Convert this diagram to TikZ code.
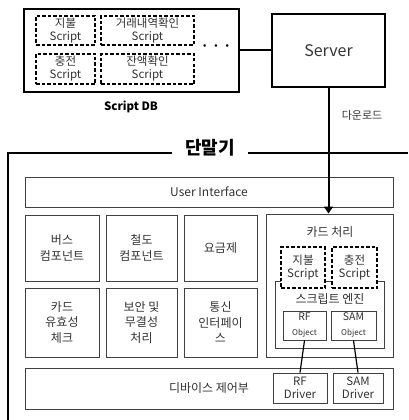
\documentclass[tikz,border=0pt]{standalone}
\usepackage{fontspec}
\setmainfont{Noto Sans CJK KR}
\usetikzlibrary{arrows.meta}
\begin{document}
\begin{tikzpicture}[x=1pt,y=-1pt,
  every node/.style={text=black!80, inner sep=0pt, align=center, font=\fontsize{11.5}{13}\selectfont},
  thickbox/.style={draw=black, line width=2pt, fill=white},
  scriptbox/.style={draw=black, line width=1.5pt, dash pattern=on 3.5pt off 2pt, fill=white, font=\fontsize{11.5}{13}\selectfont},
  modbox/.style={draw=black!75, line width=0.9pt, fill=white, font=\fontsize{12}{15.5}\selectfont},
  link/.style={line width=2pt, black},
  thinlink/.style={line width=1.2pt, black}]
\useasboundingbox (0,0) rectangle (408,420);

% Script DB with its scripts
\node[thickbox, minimum width=215pt, minimum height=83pt] (db) at (131.5,50.5) {};
\node[scriptbox, minimum width=59pt, minimum height=29pt] (s1) at (65.5,30.5) {지불\\Script};
\node[scriptbox, minimum width=93pt, minimum height=29pt] (s2) at (147.5,30.5) {거래내역확인\\Script};
\node[scriptbox, minimum width=59pt, minimum height=30pt] (s3) at (65.5,69) {충전\\Script};
\node[scriptbox, minimum width=93pt, minimum height=30pt] (s4) at (147.5,69) {잔액확인\\Script};
\node[font=\fontsize{12}{12}\selectfont\bfseries, text=black] (dots) at (216,48) {·\,\,·\,\,·};
\node[font=\fontsize{11.5}{12}\selectfont\bfseries, text=black] (dblabel) at (131,107) {Script DB};

% Server
\node[thickbox, minimum width=113pt, minimum height=73pt, font=\fontsize{16}{18}\selectfont] (server) at (328.5,50.5) {Server};
\draw[link] (db.east) -- (server.west);

% Terminal frame, open on the right
\node[font=\fontsize{18}{20}\selectfont\bfseries, text=black] (term) at (210,148) {단말기};
\coordinate (fl) at (8,153);
\draw[link] (8,420) -- (fl) -- (172,153);
\draw[link] (248,153) -- (408,153);

% Terminal modules
\node[modbox, minimum width=368pt, minimum height=30pt] (ui) at (209,192) {User Interface};
\node[modbox, minimum width=74pt, minimum height=66pt] (bus) at (62,248) {버스\\컴포넌트};
\node[modbox, minimum width=71pt, minimum height=66pt] (rail) at (141.5,248) {철도\\컴포넌트};
\node[modbox, minimum width=73pt, minimum height=66pt] (fare) at (220.5,248) {요금제};
\node[modbox, minimum width=74pt, minimum height=69pt] (valid) at (62,322.5) {카드\\유효성\\체크};
\node[modbox, minimum width=71pt, minimum height=69pt] (sec) at (141.5,322.5) {보안 및\\무결성\\처리};
\node[modbox, minimum width=73pt, minimum height=69pt] (comm) at (220.5,322.5) {통신\\인터페이\\스};

% Card processing
\node[modbox, minimum width=127pt, minimum height=143pt] (card) at (329.5,285.5) {};
\node[font=\fontsize{12}{14}\selectfont] (cardlabel) at (330,232) {카드 처리};
\node[modbox, minimum width=109pt, minimum height=67pt] (engine) at (329.5,314.5) {};
\node[font=\fontsize{12}{14}\selectfont] (enginelabel) at (330,299) {스크립트 엔진};
\node[scriptbox, minimum width=44pt, minimum height=41pt] (cs1) at (303,267.5) {지불\\Script};
\node[scriptbox, minimum width=45pt, minimum height=41pt] (cs2) at (354.5,267.5) {충전\\Script};
\node[modbox, minimum width=43pt, minimum height=29pt, font=\fontsize{10.5}{15}\selectfont] (rfo) at (304.5,325.5) {RF\\{\fontsize{8}{8}\selectfont Object}};
\node[modbox, minimum width=45pt, minimum height=29pt, font=\fontsize{10.5}{15}\selectfont] (samo) at (353.5,325.5) {SAM\\{\fontsize{8}{8}\selectfont Object}};

% Device control
\node[modbox, minimum width=368pt, minimum height=41pt] (dev) at (209,388.5) {디바이스 제어부};
\node[modbox, minimum width=54pt, minimum height=30pt, font=\fontsize{11.5}{12.5}\selectfont] (rfd) at (300,388) {RF\\Driver};
\node[modbox, minimum width=50pt, minimum height=30pt, font=\fontsize{11.5}{12.5}\selectfont] (samd) at (358,388) {SAM\\Driver};
\draw[thinlink] (rfo.south) -- (rfd.north);
\draw[thinlink] (samo.south) -- (samd.north);

% Download path
\draw[link, -{Triangle[length=7pt,width=9pt]}] (server.south) -- (server.south |- card.north);
\node[font=\fontsize{11}{12}\selectfont] (dl) at (362,115) {다운로드};
\end{tikzpicture}
\end{document}
